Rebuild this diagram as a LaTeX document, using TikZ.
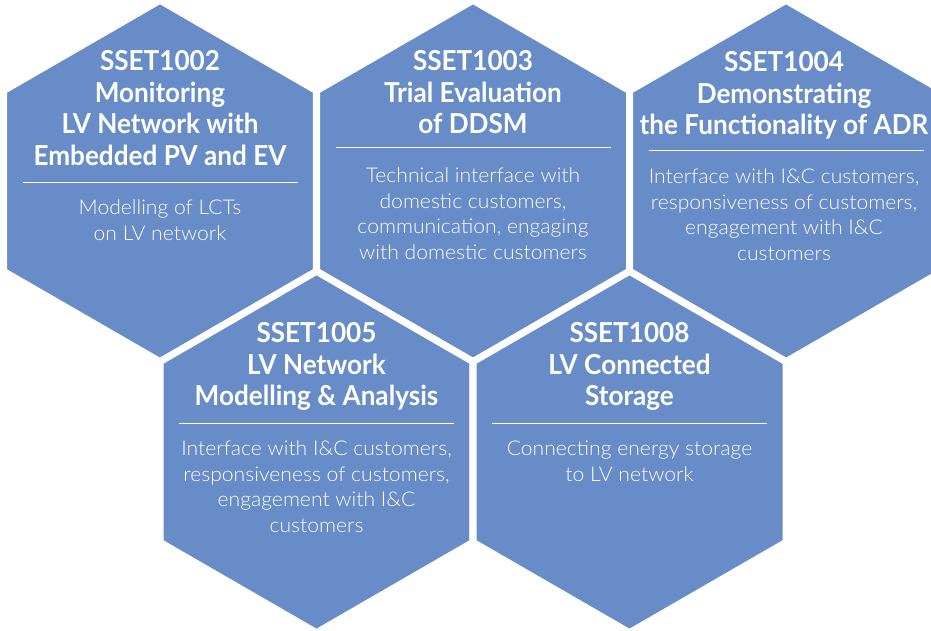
\documentclass[tikz,border=0pt]{standalone}
\usepackage{fontspec}
\setmainfont{Lato}
\newfontfamily\headfont{Lato}[FakeStretch=0.95]
\newfontfamily\lightfont{Lato Light}[FakeStretch=1.04]
\usetikzlibrary{shapes.geometric,calc}
\definecolor{hexblue}{RGB}{103,140,199}

\begin{document}
\begin{tikzpicture}[x=1pt,y=-1pt,
  hexcell/.style={regular polygon, regular polygon sides=6, shape border rotate=30,
    minimum size=361.4pt, inner sep=0pt, outer sep=0pt,
    fill=hexblue, draw=white, line width=7pt},
  headtext/.style={anchor=north, inner sep=0pt, text=white, align=center,
    font=\headfont\fontsize{27.5}{31.7}\selectfont\bfseries},
  bodytext/.style={anchor=north, inner sep=0pt, text=white, align=center,
    font=\lightfont\fontsize{20.3}{25.5}\selectfont},
  divider/.style={draw=white, line width=1pt}]

\useasboundingbox (0,0) rectangle (931,631);
\clip (0,0) rectangle (931,631);

% upper row of cells
\node[hexcell] (h1) at (160,181) {};
\node[hexcell] (h2) at (473,181) {};
\node[hexcell] (h3) at (786,181) {};
% lower row, laid over the upper one
\node[hexcell] (h4) at (316.5,452) {};
\node[hexcell] (h5) at (629.5,452) {};

% SSET1002
\node[headtext] (t1) at ($(h1.center)+(0,-131)$) {SSET1002\\Monitoring\\LV Network with\\Embedded PV and EV};
\draw[divider] ($(h1.center)+(-137.5,2)$) -- ($(h1.center)+(137.5,2)$);
\node[bodytext] (b1) at ($(h1.center)+(0,19)$) {Modelling of LCTs\\on LV network};

% SSET1003
\node[headtext] (t2) at ($(h2.center)+(0,-131)$) {SSET1003\\Trial Evaluation\\of DDSM};
\draw[divider] ($(h2.center)+(-137.5,-33)$) -- ($(h2.center)+(137.5,-33)$);
\node[bodytext] (b2) at ($(h2.center)+(0,-13)$) {Technical interface with\\domestic customers,\\communication, engaging\\with domestic customers};

% SSET1004
\node[headtext] (t3) at ($(h3.center)+(-2,-130)$) {SSET1004\\Demonstrating\\the Functionality of ADR};
\draw[divider] ($(h3.center)+(-137.5,-30)$) -- ($(h3.center)+(137.5,-30)$);
\node[bodytext] (b3) at ($(h3.center)+(-2,-12)$) {Interface with I\&C customers,\\responsiveness of customers,\\engagement with I\&C\\customers};

% SSET1005
\node[headtext] (t4) at ($(h4.center)+(0,-130)$) {SSET1005\\LV Network\\Modelling \& Analysis};
\draw[divider] ($(h4.center)+(-137.5,-29)$) -- ($(h4.center)+(137.5,-29)$);
\node[bodytext] (b4) at ($(h4.center)+(0,-11)$) {Interface with I\&C customers,\\responsiveness of customers,\\engagement with I\&C\\customers};

% SSET1008
\node[headtext] (t5) at ($(h5.center)+(0,-130)$) {SSET1008\\LV Connected\\Storage};
\draw[divider] ($(h5.center)+(-137.5,-29)$) -- ($(h5.center)+(137.5,-29)$);
\node[bodytext] (b5) at ($(h5.center)+(0,-11)$) {Connecting energy storage\\to LV network};
\end{tikzpicture}
\end{document}
